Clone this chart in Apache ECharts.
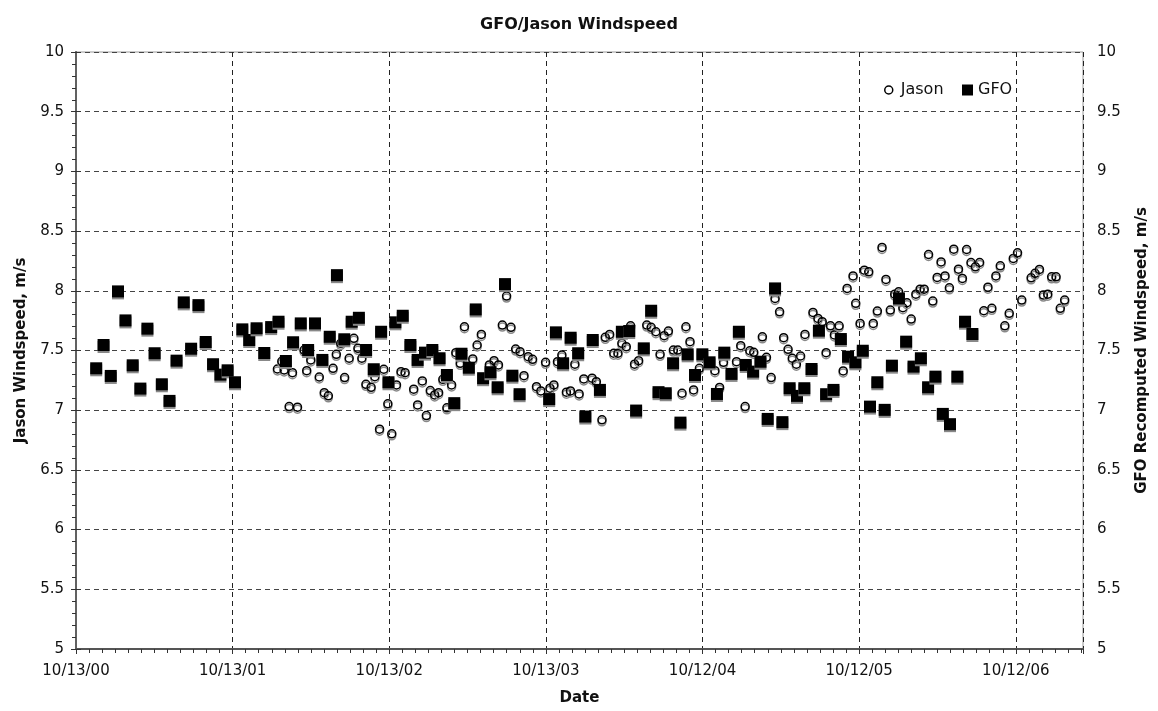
<!DOCTYPE html>
<html>
<head>
<meta charset="utf-8">
<script src="https://cdn.jsdelivr.net/npm/echarts@6/dist/echarts.min.js"></script>
<style>
  html, body { margin: 0; padding: 0; background: #fff; }
  #chart { width: 1158px; height: 711px; }
</style>
</head>
<body>
<div id="chart"></div>
<script>
// x values are years since 10/13/00
const dateLabels = ["10/13/00", "10/13/01", "10/13/02", "10/13/03", "10/12/04", "10/12/05", "10/12/06"];
const xMax = 6.429;

const jasonYears = [
  1.286, 1.314, 1.329, 1.361, 1.382, 1.414, 1.456, 1.473, 1.499, 1.553, 1.585, 1.611, 1.641, 1.662, 1.69,
  1.715, 1.744, 1.774, 1.8, 1.825, 1.851, 1.884, 1.908, 1.938, 1.965, 1.991, 2.016, 2.046, 2.075, 2.101,
  2.156, 2.181, 2.211, 2.237, 2.262, 2.29, 2.315, 2.342, 2.368, 2.398, 2.425, 2.453, 2.48, 2.533, 2.561,
  2.588, 2.639, 2.669, 2.697, 2.722, 2.749, 2.777, 2.807, 2.835, 2.86, 2.887, 2.915, 2.94, 2.968, 2.998,
  3.026, 3.051, 3.074, 3.102, 3.131, 3.157, 3.185, 3.212, 3.242, 3.295, 3.322, 3.358, 3.379, 3.407, 3.433,
  3.46, 3.485, 3.513, 3.541, 3.566, 3.592, 3.644, 3.672, 3.702, 3.729, 3.755, 3.782, 3.814, 3.842, 3.869,
  3.894, 3.92, 3.943, 3.98, 4.079, 4.109, 4.134, 4.217, 4.244, 4.272, 4.302, 4.327, 4.382, 4.408, 4.438,
  4.463, 4.492, 4.518, 4.546, 4.573, 4.599, 4.626, 4.654, 4.705, 4.737, 4.764, 4.789, 4.817, 4.842, 4.872,
  4.898, 4.923, 4.961, 4.978, 5.006, 5.033, 5.061, 5.09, 5.116, 5.146, 5.171, 5.199, 5.227, 5.252, 5.279,
  5.305, 5.332, 5.362, 5.389, 5.415, 5.443, 5.47, 5.498, 5.523, 5.548, 5.576, 5.604, 5.634, 5.659, 5.686,
  5.714, 5.742, 5.769, 5.796, 5.822, 5.847, 5.873, 5.901, 5.93, 5.958, 5.984, 6.011, 6.038, 6.098, 6.123,
  6.151, 6.176, 6.204, 6.229, 6.257, 6.284, 6.312
];
const jasonSpeed = [
  7.345, 7.41, 7.337, 7.03, 7.314, 7.025, 7.504, 7.331, 7.421, 7.278, 7.147, 7.12, 7.351, 7.468, 7.56,
  7.273, 7.435, 7.602, 7.518, 7.435, 7.217, 7.192, 7.281, 6.841, 7.343, 7.053, 6.802, 7.212, 7.323, 7.314,
  7.176, 7.044, 7.245, 6.955, 7.164, 7.128, 7.147, 7.259, 7.02, 7.212, 7.482, 7.393, 7.699, 7.429, 7.546,
  7.635, 7.379, 7.415, 7.379, 7.713, 7.956, 7.694, 7.512, 7.49, 7.289, 7.448, 7.426, 7.197, 7.161, 7.401,
  7.184, 7.212, 7.406, 7.462, 7.151, 7.161, 7.385, 7.136, 7.262, 7.268, 7.239, 6.919, 7.61, 7.635, 7.477,
  7.477, 7.56, 7.532, 7.707, 7.385, 7.415, 7.713, 7.694, 7.657, 7.468, 7.624, 7.663, 7.504, 7.504, 7.142,
  7.699, 7.574, 7.17, 7.351, 7.331, 7.191, 7.401, 7.406, 7.54, 7.03, 7.498, 7.485, 7.615, 7.443, 7.273,
  7.936, 7.824, 7.607, 7.51, 7.435, 7.385, 7.454, 7.635, 7.819, 7.769, 7.741, 7.482, 7.707, 7.63, 7.707,
  7.329, 8.02, 8.125, 7.895, 7.727, 8.173, 8.159, 7.727, 7.83, 8.363, 8.095, 7.839, 7.972, 7.992, 7.858,
  7.9, 7.763, 7.972, 8.014, 8.014, 8.304, 7.914, 8.112, 8.242, 8.125, 8.025, 8.349, 8.181, 8.104, 8.346,
  8.237, 8.201, 8.237, 7.833, 8.03, 7.853, 8.125, 8.209, 7.707, 7.811, 8.271, 8.318, 7.922, 8.109, 8.146,
  8.179, 7.964, 7.972, 8.117, 8.117, 7.853, 7.922
];

const gfoYears = [
  0.129, 0.176, 0.222, 0.268, 0.316, 0.362, 0.411, 0.456, 0.502, 0.548, 0.597, 0.642, 0.688, 0.735, 0.782,
  0.828, 0.875, 0.922, 0.968, 1.015, 1.062, 1.106, 1.153, 1.202, 1.246, 1.293, 1.34, 1.386, 1.435, 1.482,
  1.526, 1.573, 1.62, 1.666, 1.713, 1.76, 1.806, 1.852, 1.901, 1.948, 1.995, 2.039, 2.086, 2.135, 2.181,
  2.228, 2.275, 2.321, 2.368, 2.415, 2.461, 2.508, 2.552, 2.599, 2.646, 2.692, 2.739, 2.786, 2.832, 3.021,
  3.064, 3.11, 3.158, 3.206, 3.252, 3.299, 3.345, 3.485, 3.532, 3.576, 3.625, 3.672, 3.719, 3.765, 3.812,
  3.859, 3.905, 3.952, 3.999, 4.045, 4.092, 4.139, 4.185, 4.232, 4.276, 4.323, 4.37, 4.416, 4.463, 4.51,
  4.556, 4.603, 4.65, 4.696, 4.743, 4.789, 4.836, 4.883, 4.929, 4.976, 5.023, 5.069, 5.116, 5.163, 5.209,
  5.254, 5.3, 5.347, 5.394, 5.44, 5.487, 5.534, 5.58, 5.627, 5.676, 5.723
];
const gfoSpeed = [
  7.351, 7.546, 7.287, 7.995, 7.752, 7.376, 7.181, 7.683, 7.477, 7.217, 7.078, 7.415, 7.903, 7.515, 7.88,
  7.571, 7.385, 7.298, 7.334, 7.234, 7.677, 7.588, 7.686, 7.479, 7.696, 7.741, 7.412, 7.569, 7.727, 7.504,
  7.727, 7.421, 7.615, 8.131, 7.594, 7.741, 7.774, 7.504, 7.343, 7.657, 7.234, 7.736, 7.791, 7.546, 7.421,
  7.482, 7.504, 7.435, 7.295, 7.059, 7.473, 7.356, 7.844, 7.268, 7.318, 7.192, 8.056, 7.289, 7.134, 7.093,
  7.652, 7.393, 7.607, 7.477, 6.947, 7.588, 7.17, 7.657, 7.663, 6.997, 7.518, 7.833, 7.151, 7.142, 7.393,
  6.896, 7.468, 7.295, 7.468, 7.401, 7.136, 7.482, 7.304, 7.657, 7.379, 7.323, 7.406, 6.927, 8.02, 6.9,
  7.184, 7.12, 7.184, 7.345, 7.666, 7.134, 7.17, 7.596, 7.448, 7.401, 7.498, 7.03, 7.234, 7.003, 7.373,
  7.936, 7.574, 7.365, 7.435, 7.192, 7.281, 6.969, 6.883, 7.281, 7.741, 7.638
];

const FONT = "DejaVu Sans";
const txt = { fontFamily: FONT, fontSize: 15, color: "#111" };
const nameTxt = { fontFamily: FONT, fontSize: 15, fontWeight: "bold", color: "#111" };
const noShadow = { shadowBlur: 0, shadowOffsetX: 0, shadowOffsetY: 0, shadowColor: "rgba(0,0,0,0)" };

let chart = echarts.init(document.getElementById("chart"));
chart.setOption({
  animation: false,
  backgroundColor: "#fff",
  title: {
    text: "GFO/Jason Windspeed",
    left: "center",
    top: 12,
    textStyle: { fontFamily: FONT, fontSize: 16, fontWeight: "bold", color: "#111" }
  },
  legend: [
    {
      data: [{ name: "Jason", icon: "circle", itemStyle: Object.assign({ color: "#fff", borderColor: "#000", borderWidth: 1.5 }, noShadow) }],
      left: 879, top: 77, itemWidth: 8, itemHeight: 8,
      textStyle: Object.assign({}, txt, { fontSize: 16, padding: [0, 0, 0, 3] })
    },
    {
      data: [{ name: "GFO", icon: "rect", itemStyle: Object.assign({ color: "#000" }, noShadow) }],
      left: 957, top: 77, itemWidth: 11, itemHeight: 11,
      textStyle: Object.assign({}, txt, { fontSize: 16 })
    }
  ],
  grid: {
    left: 76, right: 71, top: 52, bottom: 62,
    show: true, borderColor: "#999", borderWidth: 1
  },
  xAxis: [
    {
      type: "value", min: 0, max: xMax, interval: 1,
      axisLine: { show: true, onZero: false, lineStyle: { color: "#555", width: 2 } },
      axisTick: { show: true, length: 5, lineStyle: { color: "#333" } },
      axisLabel: {
        margin: 15,
        formatter: function (v) { return Number.isInteger(v) ? dateLabels[v] : ""; },
        ...txt
      },
      splitLine: { show: true, lineStyle: { color: "#222", type: [5, 4], width: 1 } },
      name: "Date", nameLocation: "middle", nameGap: 42, nameTextStyle: nameTxt
    },
    {
      // monthly minor ticks
      type: "value", min: 0, max: xMax, interval: 1 / 12, position: "bottom",
      axisLine: { show: false },
      axisTick: { show: true, length: 4, lineStyle: { color: "#333" } },
      axisLabel: { show: false },
      splitLine: { show: false }
    }
  ],
  yAxis: [
    {
      type: "value", min: 5, max: 10, interval: 0.5, position: "left",
      axisLine: { show: true, lineStyle: { color: "#555", width: 2 } },
      axisTick: { show: true, length: 5, lineStyle: { color: "#333" } },
      minorTick: { show: true, splitNumber: 5, length: 4, lineStyle: { color: "#333" } },
      axisLabel: { margin: 12, ...txt },
      splitLine: { show: true, lineStyle: { color: "#444", type: [5, 4], width: 1 } },
      name: "Jason Windspeed, m/s", nameLocation: "middle", nameGap: 47, nameTextStyle: nameTxt
    },
    {
      type: "value", min: 5, max: 10, interval: 0.5, position: "right",
      axisLine: { show: true, lineStyle: { color: "#666", width: 1.5 } },
      axisTick: { show: true, length: 5, lineStyle: { color: "#333" } },
      axisLabel: { margin: 14, ...txt },
      splitLine: { show: false },
      name: "GFO Recomputed Windspeed, m/s", nameLocation: "middle", nameGap: 52, nameTextStyle: nameTxt
    }
  ],
  series: [
    {
      name: "Jason",
      type: "scatter",
      xAxisIndex: 0,
      yAxisIndex: 0,
      symbol: "circle",
      symbolSize: 8,
      itemStyle: {
        opacity: 1,
        color: "rgba(0,0,0,0)",
        borderColor: "#000",
        borderWidth: 1.5,
        shadowColor: "#888",
        shadowBlur: 0,
        shadowOffsetY: 2
      },
      data: jasonYears.map(function (x, i) { return [x, jasonSpeed[i]]; })
    },
    {
      name: "GFO",
      type: "scatter",
      xAxisIndex: 0,
      yAxisIndex: 1,
      symbol: "rect",
      symbolSize: 12,
      itemStyle: {
        opacity: 1,
        color: "#000",
        shadowColor: "#888",
        shadowBlur: 0,
        shadowOffsetY: 2
      },
      data: gfoYears.map(function (x, i) { return [x, gfoSpeed[i]]; })
    }
  ]
});
window.addEventListener("resize", function () {
  chart.resize();
});
</script>
</body>
</html>
